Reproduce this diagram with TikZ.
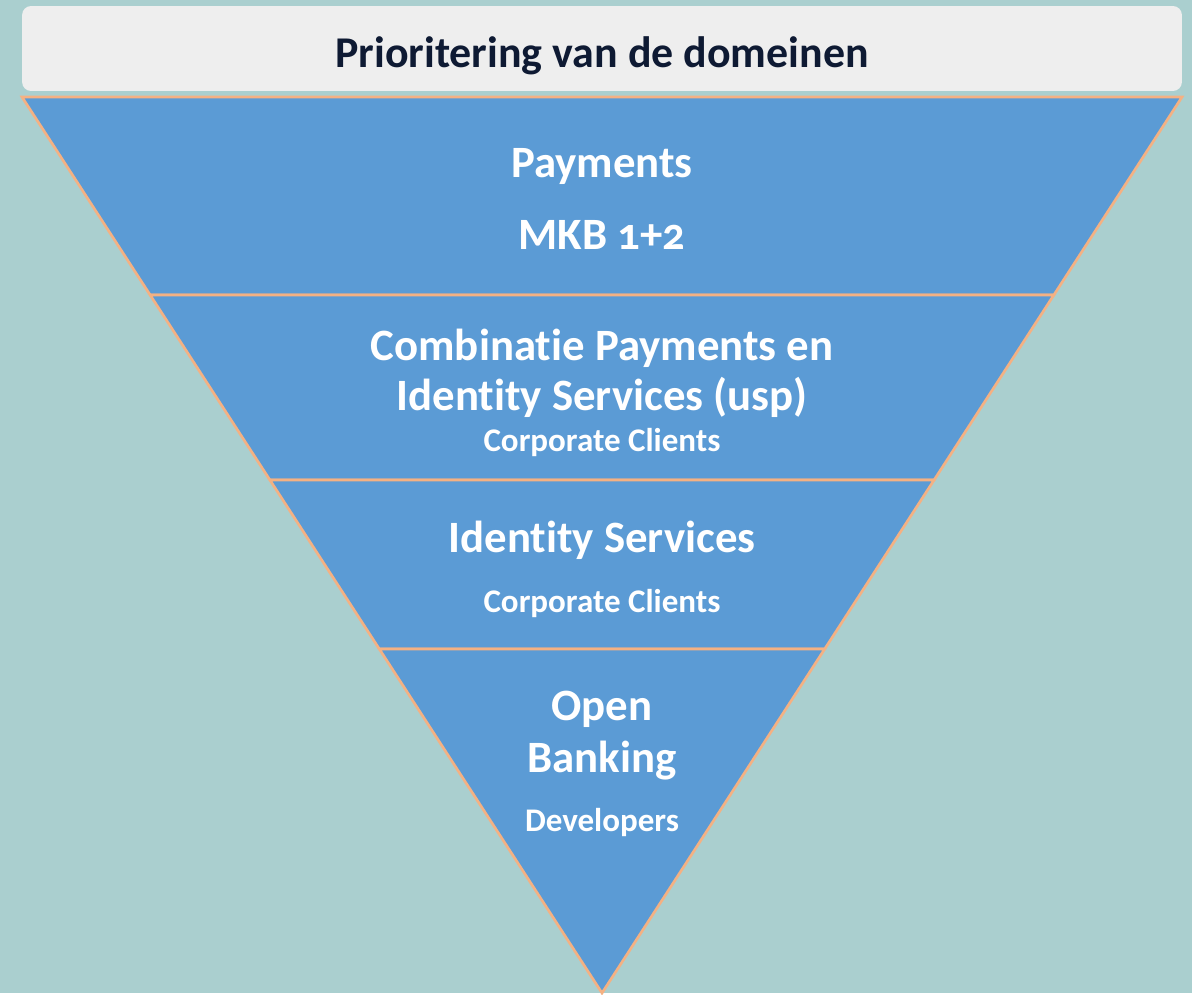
\documentclass[tikz,border=0pt]{standalone}
\usepackage{fontspec}
\setmainfont[RawFeature=-liga]{Carlito}
\usepackage{tikz}
\usetikzlibrary{calc}

\definecolor{sea}{HTML}{AACFCF}
\definecolor{funnelblue}{HTML}{5B9BD5}
\definecolor{peach}{HTML}{F4B183}
\definecolor{titlegray}{HTML}{EEEEEE}
\definecolor{navy}{HTML}{0E1A33}

\begin{document}
\begin{tikzpicture}[
    x=0.02cm, y=-0.02cm,
    band/.style={fill=funnelblue, draw=peach, line width=1.5pt, line join=miter},
    big/.style={anchor=base, text=white, font=\bfseries\fontsize{25.5}{30}\selectfont},
    small/.style={anchor=base, text=white, font=\bfseries\fontsize{18.8}{22}\selectfont}
]

% Canvas
\fill[sea] (0,0) rectangle (1192,993);

% Title
\node[fill=titlegray, rounded corners=0.18cm, minimum width=23.2cm, minimum height=1.7cm, inner sep=0pt] (titlebox) at (602,48.5) {};
\node[anchor=base, text=navy, font=\bfseries\fontsize{25}{30}\selectfont] (title) at (602,67) {Prioritering van de domeinen};

% Funnel corners
\coordinate (tl) at (22,97);
\coordinate (tr) at (1182,97);
\coordinate (apex) at (602,993);
\coordinate (l1) at ($(tl)!0.221!(apex)$);
\coordinate (r1) at ($(tr)!0.221!(apex)$);
\coordinate (l2) at ($(tl)!0.4275!(apex)$);
\coordinate (r2) at ($(tr)!0.4275!(apex)$);
\coordinate (l3) at ($(tl)!0.616!(apex)$);
\coordinate (r3) at ($(tr)!0.616!(apex)$);

% Bands
\draw[band] (tl) -- (tr) -- (r1) -- (l1) -- cycle;
\draw[band] (l1) -- (r1) -- (r2) -- (l2) -- cycle;
\draw[band] (l2) -- (r2) -- (r3) -- (l3) -- cycle;
\draw[band] (l3) -- (r3) -- (apex) -- cycle;

% Labels
\node[big] (pay) at (602,177) {Payments};
\node[big] (mkb) at (602,249) {MKB {\addfontfeatures{Numbers=OldStyle}1+2}};
\node[big] (combi) at (602,360) {Combinatie Payments en};
\node[big] (combi2) at (602,410) {Identity Services (usp)};
\node[small] (corp1) at (602,451) {Corporate Clients};
\node[big] (ids) at (602,552) {Identity Services};
\node[small] (corp2) at (602,612) {Corporate Clients};
\node[big] (open) at (602,720) {Open};
\node[big] (bank) at (602,772) {Banking};
\node[small] (dev) at (602,831) {Developers};

\end{tikzpicture}
\end{document}
